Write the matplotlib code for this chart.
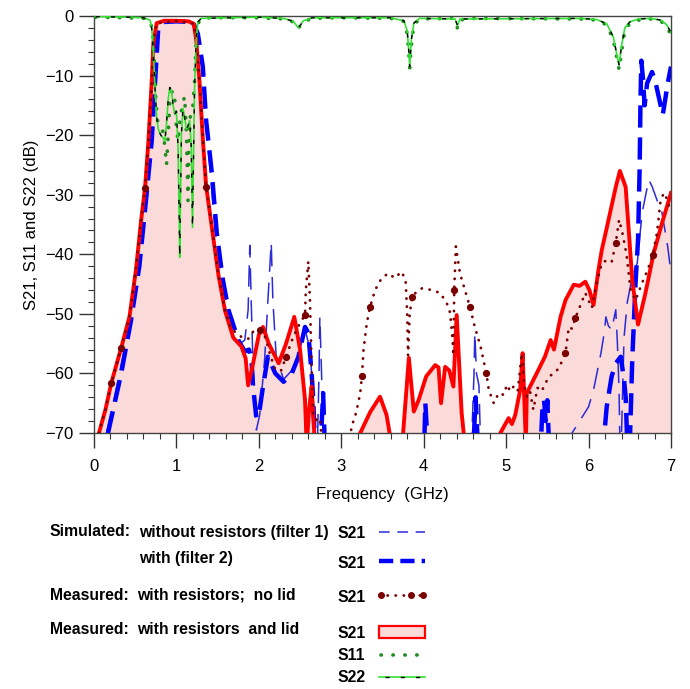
import numpy as np
import matplotlib
matplotlib.use("Agg")
import matplotlib.pyplot as plt
from matplotlib import font_manager
from matplotlib.lines import Line2D
from matplotlib.patches import Rectangle

# ---- data (frequency in GHz, level in dB) ----
red_f = [0.06, 0.14, 0.21, 0.33, 0.43, 0.51, 0.57, 0.62, 0.66, 0.70, 0.72, 0.76, 0.85, 1.0, 1.15, 1.21,
         1.24, 1.28, 1.32, 1.36, 1.40, 1.45, 1.51, 1.59, 1.69, 1.79, 1.84, 1.87, 1.92, 2.00, 2.05, 2.12,
         2.24, 2.33, 2.43, 2.50, 2.56, 2.58, 2.61, 2.64, 2.68, 2.70, 3.20, 3.23, 3.35, 3.47, 3.55, 3.61,
         3.63, 3.75, 3.82, 3.88, 3.94, 4.03, 4.14, 4.18, 4.21, 4.26, 4.31, 4.36, 4.40, 4.46, 4.50, 4.52,
         4.91, 4.93, 5.03, 5.07, 5.11, 5.17, 5.20, 5.24, 5.25, 5.37, 5.47, 5.54, 5.58, 5.66, 5.72, 5.82,
         5.89, 5.96, 6.01, 6.06, 6.12, 6.16, 6.22, 6.33, 6.38, 6.45, 6.53, 6.60, 6.69, 6.79, 6.89, 7.0]
red_db = [-70, -66, -61.6, -55.7, -50.5, -42.5, -34.5, -28.7, -21, -11, -4.5, -1.2, -0.8, -0.8, -0.9, -1.3,
          -4, -11, -20.5, -28.5, -32.5, -37.5, -43.5, -49.5, -54, -55.5, -57.5, -62, -59, -53.5, -52.2, -55,
          -58.3, -55, -50.5, -56, -64.4, -72, -66, -62.2, -72, -75, -75, -70, -66.5, -63.9, -67, -72,
          -75, -70, -57.4, -66.4, -64.4, -60.5, -58.6, -59, -65, -58.9, -59.5, -62.2, -50.2, -66.6, -72, -75,
          -75, -70, -67.5, -68.5, -67, -62.8, -56.6, -72, -63.3, -60, -57.2, -54.4, -56, -50.5, -47.7, -45.1,
          -45.3, -44.6, -46, -48.5, -42.6, -39.3, -35.6, -28.7, -26, -28.7, -44.3, -51.8, -46.5, -39.8, -34.8, -29.7]

f2_f = [0.17, 0.25, 0.33, 0.45, 0.55, 0.63, 0.70, 0.74, 0.78, 0.85, 1.0, 1.2, 1.26, 1.32, 1.36, 1.43, 1.49,
        1.56, 1.63, 1.75, 1.83, 1.88, 1.91, 1.93, 1.97, 2.01, 2.05, 2.11, 2.20, 2.30, 2.40, 2.48, 2.56, 2.60,
        2.64, 2.66, 2.68, 2.75, 2.78, 2.80, 3.98, 4.01, 4.02, 4.04, 4.06, 4.59, 4.61, 4.63, 4.65, 4.67,
        5.42, 5.44, 5.46, 5.48, 5.50, 5.52, 6.18, 6.22, 6.28, 6.33, 6.39, 6.43, 6.45, 6.47, 6.50, 6.53,
        6.57, 6.60, 6.62, 6.63, 6.64, 6.66, 6.68, 6.71, 6.77, 6.81, 6.85, 6.90, 6.93, 6.96, 7.0]
f2_db = [-70, -65, -60, -51, -42, -31, -21, -11.3, -2, -1, -0.9, -1, -3, -8.5, -17.5, -26.4, -36.5,
         -44, -49.3, -54.4, -56.3, -56, -57.7, -62.2, -67.5, -66, -62.2, -57.2, -60, -61.4, -60, -57.2, -52.2, -53.2,
         -60, -64.4, -72, -72, -63.3, -72, -72, -70, -65, -70, -72, -72, -70, -64, -70, -72,
         -72, -66, -64.5, -68, -64.5, -72, -72, -65.6, -60.5, -58.3, -57.2, -61, -64, -72, -72, -57.7,
         -44.8, -37.6, -25.3, -14, -7.5, -10.5, -15, -11.3, -9.4, -11, -13.5, -16.6, -14, -11.3, -8.5]

f1_f = [0.15, 0.25, 0.33, 0.45, 0.55, 0.63, 0.70, 0.74, 0.78, 0.85, 1.0, 1.2, 1.25, 1.31, 1.35, 1.41, 1.47,
        1.55, 1.63, 1.67, 1.72, 1.77, 1.83, 1.87, 1.89, 1.91, 1.93, 1.97, 2.01, 2.07, 2.11, 2.15, 2.17, 2.21,
        2.30, 2.40, 2.48, 2.56, 2.62, 2.66, 2.68, 2.71, 2.73, 2.74, 2.77, 2.79, 4.58, 4.61, 4.62, 4.64, 4.67,
        4.69, 5.78, 5.80, 6.0, 6.06, 6.15, 6.19, 6.21, 6.24, 6.28, 6.33, 6.35, 6.37, 6.38, 6.40, 6.43, 6.47,
        6.53, 6.59, 6.65, 6.73, 6.77, 6.83, 6.89, 6.96, 7.0]
f1_db = [-70, -64, -58.5, -50.5, -41.5, -30.5, -20.5, -11, -1.8, -1, -0.9, -1, -3, -8.5, -17, -26, -36,
         -44, -50, -53.2, -54.5, -55, -54.4, -49.3, -38.5, -49.3, -58.9, -69.5, -67, -57.7, -47.7, -38, -47.7, -57.2,
         -61, -59.5, -57, -52.5, -56, -64, -72, -72, -60, -50.5, -64.4, -72, -72, -60, -53.2, -60, -62,
         -72, -72, -70, -65.6, -62.8, -56.6, -53.2, -50.5, -52, -52.7, -49.3, -55, -63, -72, -70, -54, -48,
         -43.8, -41.5, -33, -27.5, -28.6, -30.9, -33, -38.7, -43.2]

nolid_f = [0.06, 0.14, 0.21, 0.33, 0.43, 0.51, 0.57, 0.62, 0.66, 0.70, 0.72, 0.76, 1.0, 1.21, 1.24, 1.28,
           1.32, 1.36, 1.40, 1.45, 1.51, 1.59, 1.66, 1.73, 1.80, 1.87, 1.93, 2.01, 2.08, 2.14, 2.20, 2.27,
           2.33, 2.40, 2.44, 2.50, 2.56, 2.57, 2.60, 2.62, 2.64, 2.66, 2.70, 2.74, 2.77, 3.09, 3.11, 3.15,
           3.18, 3.23, 3.25, 3.27, 3.31, 3.35, 3.41, 3.49, 3.57, 3.65, 3.73, 3.78, 3.80, 3.81, 3.83, 3.86,
           3.92, 3.98, 4.10, 4.20, 4.28, 4.32, 4.35, 4.36, 4.37, 4.39, 4.44, 4.50, 4.56, 4.62, 4.69, 4.76,
           4.79, 4.85, 4.91, 4.97, 5.01, 5.05, 5.09, 5.14, 5.19, 5.22, 5.25, 5.29, 5.33, 5.38, 5.43, 5.48,
           5.52, 5.58, 5.64, 5.72, 5.76, 5.80, 5.84, 5.88, 5.96, 6.04, 6.10, 6.16, 6.22, 6.28, 6.33, 6.37,
           6.41, 6.46, 6.51, 6.57, 6.65, 6.72, 6.78, 6.83, 6.87, 6.91, 6.96, 6.99]
nolid_db = [-70, -66, -61.6, -55.7, -50.5, -42.3, -34.4, -28.9, -21, -11, -4.5, -1.2, -0.8, -1.3, -4, -11,
            -20.5, -28.7, -32.5, -37.5, -43.5, -49.5, -52.5, -53.2, -54, -54.2, -53, -52.7, -54, -57, -59.4, -59.5,
            -57.2, -54.5, -53.2, -51.5, -50.2, -46, -41.2, -47.7, -58.9, -67.2, -67.8, -67.5, -72, -72, -70, -67.8,
            -66.6, -63.3, -60.5, -56, -51.5, -48.8, -46, -44, -43.2, -44, -42.9, -44.3, -50, -57, -50, -47.1,
            -46.2, -45.7, -46, -46.5, -48.2, -49.8, -54.4, -57, -46, -38.7, -43.2, -46, -48.8, -52.2, -55.5, -60,
            -62.8, -65, -63.3, -63.6, -61.9, -63, -62.2, -63, -56.6, -62, -63.9, -63, -66.1, -62.4, -63, -61.6,
            -60.5, -60, -59.1, -56.6, -52.2, -52.5, -50.7, -49.3, -46.5, -49, -44.8, -41.5, -41, -41.3, -38.1, -34.2,
            -36.4, -40, -46, -47.7, -44.8, -42.5, -40.1, -36.4, -31.4, -29.7, -30.9, -33]
nolid_big = [0.21, 0.33, 0.62, 1.36, 2.01, 2.33, 2.56, 3.25, 3.35, 3.86, 4.37, 4.56, 4.76, 5.72, 5.84, 6.33, 6.78]

s11_f = [0.02, 0.4, 0.6, 0.68, 0.71, 0.73, 0.75, 0.77, 0.80, 0.84, 0.86, 0.88, 0.90, 0.92, 0.95, 0.98, 1.00,
         1.02, 1.04, 1.07, 1.10, 1.12, 1.13, 1.14, 1.15, 1.17, 1.20, 1.22, 1.235, 1.25, 1.28, 1.4, 2.0, 2.3,
         2.42, 2.48, 2.53, 2.65, 3.0, 3.6, 3.76, 3.80, 3.82, 3.83, 3.85, 3.88, 3.95, 4.35, 4.39, 4.41, 4.43,
         4.5, 5.9, 6.1, 6.22, 6.30, 6.35, 6.37, 6.40, 6.44, 6.5, 6.6, 6.75, 6.88, 6.95, 7.0]
s11_db = [-0.2, -0.3, -0.4, -0.8, -2.5, -7, -14, -17.5, -18.5, -19.5, -22, -25, -20, -14.5, -12.5, -14, -19,
          -21, -18, -15, -13.5, -19.5, -25, -31, -22, -16.5, -15, -11, -6, -2, -0.7, -0.3, -0.3, -0.5,
          -1.0, -2.1, -1.0, -0.4, -0.3, -0.4, -0.9, -3, -6.5, -8.7, -5, -1.5, -0.5, -0.4, -0.9, -2.1, -0.9,
          -0.4, -0.5, -0.7, -1.5, -4, -7.5, -9, -6, -2.5, -1.2, -0.7, -0.5, -0.9, -1.8, -3.2]

s22_f = [0.02, 0.4, 0.6, 0.68, 0.70, 0.72, 0.74, 0.76, 0.78, 0.81, 0.84, 0.86, 0.88, 0.90, 0.92, 0.94, 0.96,
         0.98, 1.00, 1.02, 1.035, 1.04, 1.05, 1.06, 1.08, 1.10, 1.12, 1.14, 1.16, 1.18, 1.195, 1.205, 1.22,
         1.24, 1.26, 1.3, 2.0, 2.3, 2.42, 2.48, 2.54, 2.65, 3.6, 3.76, 3.80, 3.82, 3.83, 3.85, 3.88, 3.95,
         4.38, 4.41, 4.44, 5.9, 6.1, 6.22, 6.30, 6.35, 6.37, 6.40, 6.44, 6.5, 6.6, 6.75, 6.88, 6.95, 7.0]
s22_db = [-0.1, -0.2, -0.3, -0.7, -2, -6, -12, -17, -19, -20, -20.5, -21, -18, -14, -12, -12.5, -15,
          -16.5, -16, -22, -35, -40.5, -30, -20, -15.5, -17, -19, -18.5, -17.5, -22, -35.5, -26, -12,
          -4, -1, -0.4, -0.2, -0.4, -0.9, -2, -0.8, -0.3, -0.3, -0.8, -2.5, -6, -8.5, -4, -1.2, -0.4,
          -0.5, -1.6, -0.5, -0.4, -0.6, -1.3, -3.5, -7, -8.2, -5, -2, -1, -0.5, -0.4, -0.7, -1.5, -2.8]

# ---- fonts ----
names = {f.name for f in font_manager.fontManager.ttflist}
base_font = "Liberation Sans" if "Liberation Sans" in names else "DejaVu Sans"
plt.rcParams["font.family"] = base_font

RED = "#ff0000"
PINK = "#fbdada"
BLUE = "#0000ff"
BLUE_THIN = "#2b2bd8"
BROWN = "#7a0000"
DKGREEN = "#1e8c1e"
LTGREEN = "#33e033"

fig = plt.figure(figsize=(6.9, 6.89), dpi=100)
W, H = 690, 689
ax = fig.add_axes([94 / W, 1 - 433 / H, (671 - 94) / W, (433 - 16) / H])

ax.fill_between(red_f, red_db, -75, color=PINK, lw=0, zorder=1)
ax.plot(f1_f, f1_db, color=BLUE_THIN, lw=1.1, dashes=(14, 7), zorder=2)
ax.plot(f2_f, f2_db, color=BLUE, lw=3.2, dashes=(5, 2.2), zorder=3)
ax.plot(red_f, red_db, color=RED, lw=2.8, zorder=4, solid_joinstyle="round")
big_idx = [i for i, f in enumerate(nolid_f) if f in nolid_big]
ax.plot(nolid_f, nolid_db, color=BROWN, lw=2.0, linestyle=(0, (0.1, 2.8)), dash_capstyle="round", zorder=5)
ax.plot(nolid_f, nolid_db, color=BROWN, lw=0, marker="o", ms=4.2, markevery=big_idx, zorder=5)
ax.plot(s11_f, s11_db, color=DKGREEN, lw=2.6, linestyle=(0, (0.1, 3.2)), dash_capstyle="round", zorder=6)
ax.plot(s22_f, s22_db, color=LTGREEN, lw=1.2, zorder=7)
ax.plot(s22_f, s22_db, color="black", lw=1.0, dashes=(3, 8), zorder=7)

ax.set_xlim(0, 7)
ax.set_ylim(-70, 0)
ax.set_xticks(range(0, 8))
ax.set_yticks(range(-70, 1, 10))
ax.set_xticks(np.arange(0, 7.01, 0.2), minor=True)
ax.set_yticks(np.arange(-70, 0.1, 2), minor=True)
ax.tick_params(which="major", direction="out", length=10.5, width=1, labelsize=12, color="#333333")
ax.tick_params(axis="x", which="major", pad=8)
ax.tick_params(axis="y", which="major", pad=4)
ax.tick_params(which="minor", direction="out", length=4.5, width=0.8, color="#333333")
for s in ax.spines.values():
    s.set_color("#444444")
    s.set_linewidth(1)
ax.set_xlabel("Frequency  (GHz)", fontsize=12)
ax.set_ylabel("S21, S11 and S22 (dB)", fontsize=12)
ax.xaxis.set_label_coords(0.5, -0.13)
ax.yaxis.set_label_coords(-0.095, 0.5)

# ---- legend drawn below the axes in pixel coordinates ----
lax = fig.add_axes([0, 0, 1, 1])
lax.set_xlim(0, W)
lax.set_ylim(H, 0)
lax.axis("off")
tk = dict(fontsize=11.3, fontweight="bold", va="center")
lax.text(50, 532, "Simulated:", **tk)
lax.text(139, 532, "without resistors (filter 1)", **tk)
lax.text(139, 558, "with (filter 2)", **tk)
lax.text(50, 595, "Measured:", **tk)
lax.text(137, 595, "with resistors;  no lid", **tk)
lax.text(50, 629, "Measured:", **tk)
lax.text(137, 629, "with resistors  and lid", **tk)
for y, lab in [(533, "S21"), (563, "S21"), (597, "S21"), (633, "S21"), (655, "S11"), (677, "S22")]:
    lax.text(338, y, lab, **tk)

x0, x1 = 379, 425
lax.add_line(Line2D([x0, x1], [532, 532], color=BLUE_THIN, lw=1.1, dashes=(7, 5)))
lax.add_line(Line2D([x0, x1], [561, 561], color=BLUE, lw=3.2, dashes=(3.2, 1.6)))
lax.add_line(Line2D([x0, x1], [595, 595], color=BROWN, lw=2.0, linestyle=(0, (0.1, 2.8)), dash_capstyle="round"))
lax.add_line(Line2D([x0 + 2, 411, x1 - 2], [595, 595, 595], color=BROWN, lw=0, marker="o", ms=4))
lax.add_patch(Rectangle((x0, 626), x1 - x0, 12, facecolor=PINK, edgecolor=RED, lw=1.6))
lax.add_line(Line2D([x0 + 2, x1], [655, 655], color=DKGREEN, lw=2.6, linestyle=(0, (0.1, 3.2)), dash_capstyle="round"))
lax.add_line(Line2D([x0, x1], [677, 677], color=LTGREEN, lw=1.2))
lax.add_line(Line2D([x0 + 6, x1], [677, 677], color="black", lw=1.0, dashes=(3, 8)))

plt.savefig("out.png", dpi=100)
